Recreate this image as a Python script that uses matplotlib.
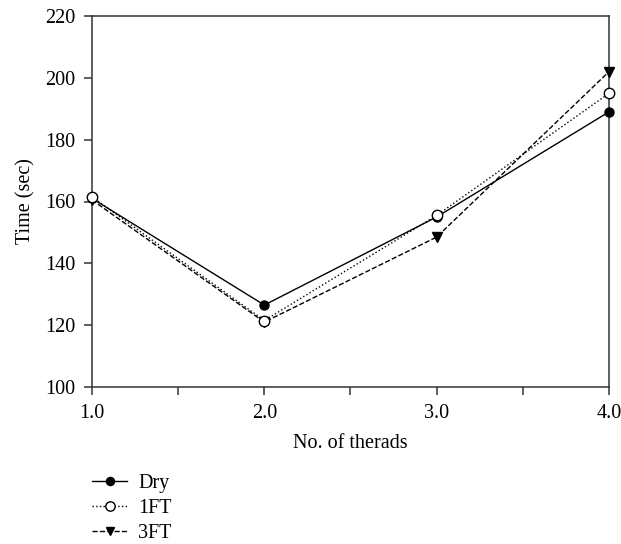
import matplotlib
matplotlib.use("Agg")
import matplotlib.pyplot as plt
from matplotlib.ticker import MultipleLocator

plt.rcParams['font.family'] = ['Liberation Serif', 'DejaVu Serif']

threads = [1.0, 2.0, 3.0, 4.0]
dry = [161.0, 126.5, 155.0, 189.0]
ft1 = [161.5, 121.5, 155.5, 195.0]
ft3 = [160.5, 121.0, 148.5, 202.0]
xticklabels = ['1.0', '2.0', '3.0', '4.0']

fig = plt.figure(figsize=(6.21, 5.44), dpi=100)
ax = fig.add_axes([92 / 621, 1 - 387 / 544, (609 - 92) / 621, (387 - 16) / 544])

ax.plot(threads, dry, '-', color='black', lw=1, marker='o', ms=6.5, mfc='black', mec='black',
        label='Dry', zorder=3, clip_on=False)
ax.plot(threads, ft1, ':', color='black', lw=1, marker='o', ms=7.5, mfc='white', mec='black',
        label='1FT', zorder=4, clip_on=False)
ax.plot(threads, ft3, '--', color='black', lw=1, marker='v', ms=6.5, mfc='black', mec='black',
        label='3FT', zorder=3, clip_on=False)

ax.set_xlim(1.0, 4.0)
ax.set_ylim(100, 220)
ax.set_xticks(threads)
ax.set_xticklabels(xticklabels)
ax.xaxis.set_minor_locator(MultipleLocator(0.5))
ax.set_yticks(range(100, 221, 20))
ax.tick_params(axis='both', which='both', direction='out', length=6, width=1.1, labelsize=14.5,
               right=False, top=False, pad=6, color='#333333')
ax.tick_params(axis='x', which='minor', length=6)
for s in ax.spines.values():
    s.set_linewidth(1.1)
    s.set_color('#333333')

ax.set_xlabel('No. of therads', fontsize=14.5, labelpad=8)
ax.set_ylabel('Time (sec)', fontsize=14.5, labelpad=7)

fig.legend(loc='upper left', bbox_to_anchor=(92 / 621, 1 - 474 / 544), frameon=False, fontsize=14.5,
           handlelength=1.75, handletextpad=0.55, labelspacing=0.3, borderaxespad=0, borderpad=0,
           markerscale=0.9)

fig.savefig('out.png', dpi=100)
